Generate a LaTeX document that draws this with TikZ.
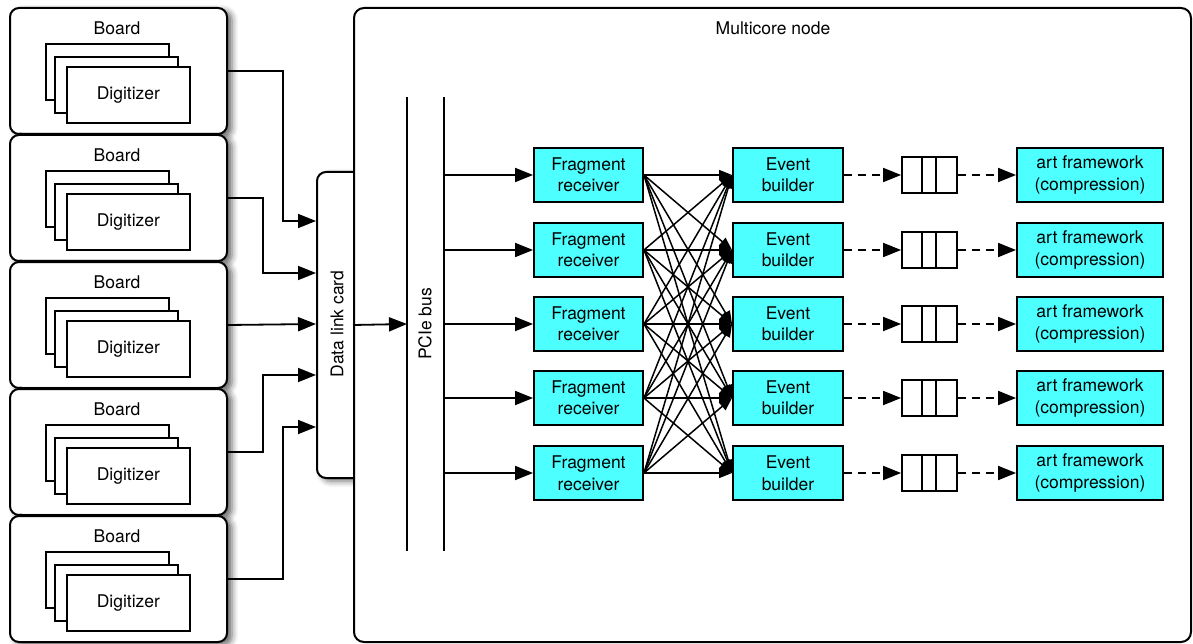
\documentclass[tikz,border=0pt]{standalone}
\usepackage{fontspec}
\setmainfont{TeX Gyre Heros}
\usetikzlibrary{arrows.meta,shadows.blur,calc}
\definecolor{boxcyan}{RGB}{77,255,255}
\begin{document}
\begin{tikzpicture}[x=1pt,y=-1pt,
  font=\fontsize{17.5}{21.5}\selectfont,
  shad/.style={blur shadow={shadow xshift=5pt,shadow yshift=-3pt,shadow blur radius=6pt,shadow opacity=60}},
  board/.style={draw, line width=2pt, rounded corners=9pt, fill=white, shad, minimum width=217pt, minimum height=126pt, anchor=north west, inner sep=0pt},
  dig/.style={draw, line width=1.8pt, fill=white, minimum width=123pt, minimum height=56pt, anchor=north west, inner sep=0pt},
  proc/.style={draw, line width=1.9pt, fill=boxcyan, minimum height=54pt, inner sep=0pt, align=center},
  qbox/.style={draw, line width=1.8pt, fill=white, minimum width=55pt, minimum height=36pt, inner sep=0pt},
  big/.style={-{Triangle[length=18pt,width=14pt]}, line width=1.8pt},
  small/.style={-{Triangle[length=13pt,width=10pt]}, line width=1.5pt},
  dsh/.style={big, dash pattern=on 8pt off 6pt},
  busline/.style={line width=1.8pt},
]
\useasboundingbox (0,0) rectangle (1193,644);

% boards
\foreach \i/\t in {1/7,2/134,3/261,4/388,5/515} {
  \node[board] (b\i) at (9,\t) {};
  \node (bl\i) at (117,\t+21) {Board};
  \node[dig] (da\i) at (45,\t+36) {};
  \node[dig] (db\i) at (54,\t+49) {};
  \node[dig] (dc\i) at (66,\t+59) {Digitizer};
}

% data link card and multicore node
\node[draw, line width=2pt, rounded corners=9pt, fill=white, shad, minimum width=50pt, minimum height=306pt, anchor=north west, inner sep=0pt] (card) at (316,171) {};
\node[draw, line width=2pt, rounded corners=10pt, fill=white, minimum width=837pt, minimum height=634pt, anchor=north west, inner sep=0pt] (mc) at (353,7) {};
\node (mcl) at (773,28) {Multicore node};
\node[rotate=90] (cardl) at (337,324) {Data link card};

% card inputs
\coordinate (ci1) at (316,221);
\coordinate (ci2) at (316,273);
\coordinate (ci3) at (316,324);
\coordinate (ci4) at (316,375);
\coordinate (ci5) at (316,427);
\draw[big] (b1.east) -- ++(55,0) |- (ci1);
\draw[big] (b2.east) -- ++(35,0) |- (ci2);
\draw[big] (b3.east) -- (ci3);
\draw[big] (b4.east) -- ++(35,0) |- (ci4);
\draw[big] (b5.east) -- ++(55,0) |- (ci5);

% PCIe bus
\coordinate (bat) at (407,97);
\coordinate (bab) at (407,551);
\coordinate (bbt) at (444,97);
\coordinate (bbb) at (444,551);
\draw[busline] (bat) -- (bab);
\draw[busline] (bbt) -- (bbb);
\node[rotate=90] (busl) at (425,324) {PCIe bus};
\coordinate (busin) at (407,324);
\draw[big] (mc.west) -- (busin);

% rows
\foreach \r/\y in {1/175,2/250,3/324,4/398,5/473} {
  \node[proc, minimum width=109pt] (fr\r) at (588.5,\y) {Fragment\\receiver};
  \node[proc, minimum width=110pt] (eb\r) at (788,\y) {Event\\builder};
  \node[qbox] (q\r) at (929.5,\y) {};
  \draw[line width=1.8pt] ([xshift=21pt]q\r.north west) -- ([xshift=21pt]q\r.south west);
  \draw[line width=1.8pt] ([xshift=35pt]q\r.north west) -- ([xshift=35pt]q\r.south west);
  \node[proc, minimum width=146pt] (art\r) at (1090,\y) {art framework\\(compression)};
  \coordinate (bo\r) at (444,\y);
  \draw[big] (bo\r) -- (fr\r);
  \draw[dsh] (eb\r) -- (q\r);
  \draw[dsh] (q\r) -- (art\r);
}

% full mesh
\foreach \a in {1,...,5} {
  \foreach \b in {1,...,5} {
    \draw[small] (fr\a.east) -- (eb\b.west);
  }
}
\end{tikzpicture}
\end{document}
